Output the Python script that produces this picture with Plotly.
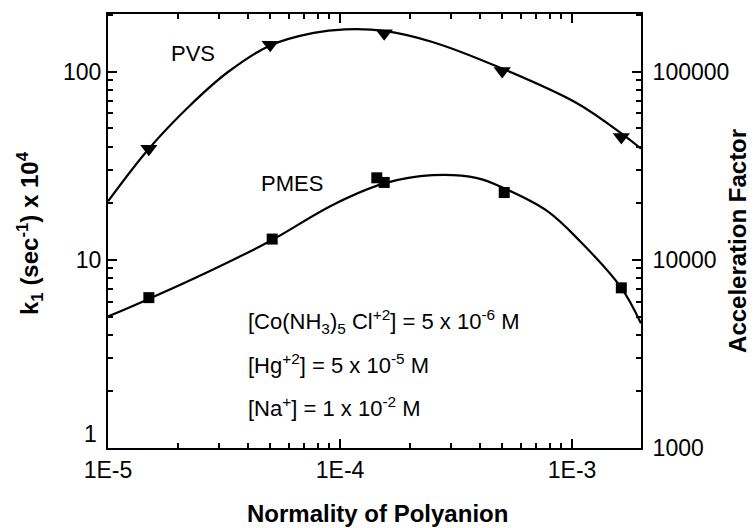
import plotly.graph_objects as go

# Measured rate constants (k1 x 10^4, sec^-1) versus polyanion normality
pvs_n = [1.5e-5, 5.0e-5, 1.55e-4, 5.0e-4, 1.63e-3]
pvs_k = [39, 139, 160, 101, 45]

pmes_n = [1.5e-5, 5.1e-5, 1.44e-4, 1.55e-4, 5.1e-4, 1.63e-3]
pmes_k = [6.3, 12.9, 27.3, 25.8, 22.8, 7.1]

# Smoothed fit curves through the data
pvs_fit_n = [1.0e-5, 1.5e-5, 2.25e-5, 3.3e-5, 5.0e-5, 7.7e-5, 1.05e-4, 1.55e-4, 2.5e-4, 4.9e-4, 1.05e-3, 1.63e-3, 1.98e-3]
pvs_fit_k = [20.5, 39, 66, 100, 138, 161, 168, 165, 144, 105, 68, 47, 39]

pmes_fit_n = [1.0e-5, 1.5e-5, 2.5e-5, 5.0e-5, 9.3e-5, 1.55e-4, 2.5e-4, 3.9e-4, 5.1e-4, 7.8e-4, 1.08e-3, 1.63e-3, 1.98e-3]
pmes_fit_k = [5.0, 6.2, 8.25, 12.6, 19.6, 25.5, 28.2, 27.2, 24.0, 18.2, 12.6, 7.1, 4.6]

x_ticks = [1e-5, 1e-4, 1e-3]
x_tick_text = ["1E-5", "1E-4", "1E-3"]
y_ticks = [1, 10, 100]
y_tick_text = ["1", "10", "100"]
y2_ticks = [1000, 10000, 100000]
y2_tick_text = ["1000", "10000", "100000"]

FONT = "Arial, Liberation Sans, sans-serif"
W, H = 754, 528
L, R, T, B = 108, 641, 12, 448

x_minor = [m * 10.0 ** e for e in (-5, -4) for m in range(2, 10)]
y_minor = [m * 10.0 ** e for e in (0, 1) for m in range(2, 10)] + [200]
y2_minor = [v * 1000 for v in y_minor]

fig = go.Figure()

line_style = dict(color="black", width=2.2, shape="spline", smoothing=1.0)
fig.add_trace(go.Scatter(x=pvs_fit_n, y=pvs_fit_k, mode="lines", line=line_style,
                         hoverinfo="skip", showlegend=False))
fig.add_trace(go.Scatter(x=pmes_fit_n, y=pmes_fit_k, mode="lines", line=line_style,
                         hoverinfo="skip", showlegend=False))
fig.add_trace(go.Scatter(x=pvs_n, y=pvs_k, mode="markers", name="PVS",
                         marker=dict(symbol="triangle-down", size=15, color="black"),
                         showlegend=False))
fig.add_trace(go.Scatter(x=pmes_n, y=pmes_k, mode="markers", name="PMES",
                         marker=dict(symbol="square", size=11, color="black"),
                         showlegend=False))
# invisible trace to activate the right-hand axis
fig.add_trace(go.Scatter(x=[1e-5], y=[1000], yaxis="y2", mode="markers",
                         marker=dict(opacity=0), hoverinfo="skip", showlegend=False))


def px(xp):
    return (xp - L) / (R - L)


def py(yp):
    return (B - yp) / (B - T)


TICK_SIZE = 23
axis_common = dict(
    type="log", showgrid=False, zeroline=False, showline=True, linecolor="black",
    linewidth=2, ticks="inside", ticklen=9, tickwidth=2, tickcolor="black",
    tickfont=dict(family=FONT, size=TICK_SIZE, color="black"),
)
minor_common = dict(tickmode="array", ticks="inside", ticklen=5, tickwidth=2,
                    tickcolor="black", showgrid=False)

# the bottom "1" of the left axis is drawn separately, lifted above "1E-5"
left_tick_text = ["" if t == "1" else t for t in y_tick_text]

fig.update_layout(
    width=W, height=H,
    margin=dict(l=L, r=W - R, t=T, b=H - B),
    paper_bgcolor="white", plot_bgcolor="white",
    font=dict(family=FONT, color="black"),
    xaxis=dict(**axis_common, range=[-5, -2.703], tickmode="array",
               tickvals=x_ticks, ticktext=x_tick_text, mirror="ticks",
               minor=dict(**minor_common, tickvals=x_minor)),
    yaxis=dict(**axis_common, range=[0, 2.307], tickmode="array",
               tickvals=y_ticks, ticktext=left_tick_text,
               minor=dict(**minor_common, tickvals=y_minor)),
    yaxis2=dict(**axis_common, range=[3, 5.307], overlaying="y", side="right",
                tickmode="array", tickvals=y2_ticks, ticktext=y2_tick_text,
                ticklabelstandoff=5,
                minor=dict(**minor_common, tickvals=y2_minor)),
)

ann_font = dict(family=FONT, size=22, color="black")
title_font = dict(family=FONT, size=24, color="black")
annotations = [
    dict(text="1", x=px(99), y=py(434), xanchor="right", yanchor="middle",
         font=dict(family=FONT, size=TICK_SIZE, color="black")),
    dict(text="PVS", x=px(193), y=py(52), xanchor="center", yanchor="middle", font=ann_font),
    dict(text="PMES", x=px(292), y=py(182), xanchor="center", yanchor="middle", font=ann_font),
    dict(text="[Co(NH<sub>3</sub>)<sub>5</sub> Cl<sup>+2</sup>] = 5 x 10<sup>-6</sup> M",
         x=px(246), y=py(321), xanchor="left", yanchor="middle", font=ann_font),
    dict(text="[Hg<sup>+2</sup>] = 5 x 10<sup>-5</sup> M",
         x=px(246), y=py(364), xanchor="left", yanchor="middle", font=ann_font),
    dict(text="[Na<sup>+</sup>] = 1 x 10<sup>-2</sup> M",
         x=px(246), y=py(407), xanchor="left", yanchor="middle", font=ann_font),
    dict(text="<b>Normality of Polyanion</b>", x=px(377), y=py(514),
         xanchor="center", yanchor="middle", font=title_font),
    dict(text="<b>k<sub>1</sub> (sec<sup>-1</sup>) x 10<sup>4</sup></b>", x=px(30), y=py(232),
         xanchor="center", yanchor="middle", textangle=-90, font=title_font),
    dict(text="<b>Acceleration Factor</b>", x=px(738), y=py(240),
         xanchor="center", yanchor="middle", textangle=-90, font=title_font),
]
for a in annotations:
    a.update(xref="paper", yref="paper", showarrow=False)
fig.update_layout(annotations=annotations)

fig.write_html("out.html")
